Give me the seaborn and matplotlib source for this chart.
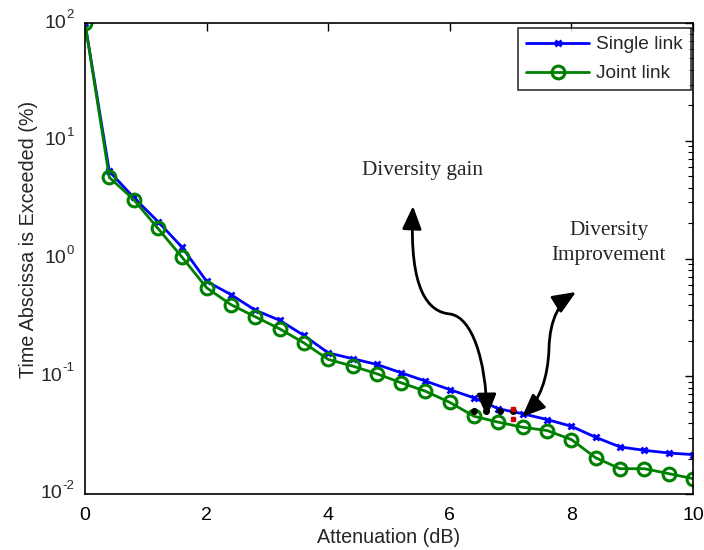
import numpy as np
import pandas as pd
import matplotlib
matplotlib.use("Agg")
import matplotlib.pyplot as plt
import seaborn as sns
from matplotlib.patches import FancyArrowPatch
from matplotlib.path import Path

# ---- data ----
attenuation = [0, 0.4, 0.8, 1.2, 1.6, 2.0, 2.4, 2.8, 3.2, 3.6, 4.0, 4.4, 4.8,
               5.2, 5.6, 6.0, 6.4, 6.8, 7.2, 7.6, 8.0, 8.4, 8.8, 9.2, 9.6, 10.0]
single_link = [100, 5.5, 3.3, 2.06, 1.24, 0.64, 0.494, 0.364, 0.299, 0.222,
               0.158, 0.141, 0.126, 0.107, 0.091, 0.077, 0.0655, 0.053, 0.048,
               0.0429, 0.0376, 0.0303, 0.0251, 0.0235, 0.0223, 0.0216]
joint_link = [100, 4.88, 3.17, 1.80, 1.02, 0.564, 0.406, 0.32, 0.253, 0.192,
              0.139, 0.122, 0.105, 0.088, 0.0746, 0.060, 0.0457, 0.0407, 0.0369,
              0.0346, 0.029, 0.0203, 0.0164, 0.0164, 0.0149, 0.0135]
series_names = ["Single link", "Joint link"]
black_dots_x = [6.40, 6.60, 6.83, 7.04]
black_dots_y = [0.0511, 0.0511, 0.0511, 0.0511]
red_dots_x = [7.04, 7.04]
red_dots_y = [0.0532, 0.0437]
xticks = [0, 2, 4, 6, 8, 10]
ytick_exponents = [-2, -1, 0, 1, 2]
annot_gain = "Diversity gain"
annot_impr = "Diversity\nImprovement"

sns.set_style("white")
plt.rcParams["font.family"] = ["Liberation Sans", "DejaVu Sans"]

fig = plt.figure(figsize=(7.04, 5.5), dpi=100)
ax = fig.add_axes([85/704, 1-494/550, (693-85)/704, (494-23)/550])

df = pd.DataFrame({"x": attenuation * 2,
                   "y": single_link + joint_link,
                   "series": [series_names[0]] * len(attenuation) + [series_names[1]] * len(attenuation)})

blue = (0, 0, 1)
green = (0, 0.5, 0)
sns.lineplot(data=df[df.series == series_names[0]], x="x", y="y", ax=ax,
             color=blue, lw=2.0, marker="x", markersize=5, mew=2,
             markeredgecolor=blue, label=series_names[0])
sns.lineplot(data=df[df.series == series_names[1]], x="x", y="y", ax=ax,
             color=green, lw=2.0, marker="o", markersize=9.2, mew=2.2,
             markerfacecolor="none", markeredgecolor=green,
             label=series_names[1])

ax.plot(black_dots_x, black_dots_y, ls="none", marker="o", ms=4, color="black", zorder=5)
ax.plot(red_dots_x, red_dots_y, ls="none", marker="s", ms=3, color="#cc0000", zorder=5)

ax.set_yscale("log")
ax.set_xlim(0, 10)
ax.set_ylim(1e-2, 1e2)
ax.set_xticks(xticks)
ax.set_xticklabels([str(t) for t in xticks])
ax.set_yticks([10.0 ** k for k in ytick_exponents])
ax.set_yticklabels([])
ax.tick_params(axis="both", which="both", direction="in", top=True, right=True,
               labelsize=14, colors="black")
ax.tick_params(axis="x", pad=9)
ax.tick_params(which="major", length=6, width=1)
ax.tick_params(which="minor", length=3.5, width=0.8)
ax.xaxis.set_minor_locator(matplotlib.ticker.NullLocator())
for s in ax.spines.values():
    s.set_visible(True)
    s.set_color("black")
    s.set_linewidth(1.2)

ax.set_xlabel("Attenuation (dB)", fontsize=14.2, labelpad=3)
ax.set_ylabel("Time Abscissa is Exceeded (%)", fontsize=14.2)
ax.yaxis.set_label_coords(-(85 - 38) / 608, (494 - 239) / 471)

# legend placed with its upper-right corner at pixel (691, 28)
inv = ax.transAxes.inverted()
lx, ly = inv.transform(fig.transFigure.transform((691/704, 1-28/550)))
leg = ax.legend(loc="upper right", bbox_to_anchor=(lx, ly), fontsize=13.8,
                frameon=True, fancybox=False, edgecolor="black",
                handlelength=3.3, borderaxespad=0.0, borderpad=0.42,
                labelspacing=0.6, handletextpad=0.35)
leg.get_frame().set_linewidth(1.2)

# y tick labels in MATLAB style: "10" with a raised exponent (hyphen minus)
fig.canvas.draw()
renderer = fig.canvas.get_renderer()
for k in ytick_exponents:
    e = ax.annotate(str(k), xy=(0, 10.0 ** k), xycoords=("axes fraction", "data"),
                    xytext=(-11, 8), textcoords="offset pixels",
                    ha="right", va="center", fontsize=9.5)
    w = e.get_window_extent(renderer).width
    ax.annotate("10", xy=(0, 10.0 ** k), xycoords=("axes fraction", "data"),
                xytext=(-11 - w, 0), textcoords="offset pixels",
                ha="right", va="center", fontsize=14)

# annotations (positions in figure pixels)
def P(x, y):
    return (x / 704, 1 - y / 550)

fig.text(*P(423, 171), annot_gain, family="Liberation Serif", fontsize=15.3,
         ha="center", va="center")
fig.text(*P(609, 243), annot_impr, family="Liberation Serif", fontsize=15.3,
         ha="center", va="center", linespacing=1.45)

gain_path = Path([P(413, 206), P(409, 290), P(428, 312), P(450, 314),
                  P(472, 317), P(486, 360), P(487, 417)],
                 [Path.MOVETO, Path.CURVE4, Path.CURVE4, Path.CURVE4,
                  Path.CURVE4, Path.CURVE4, Path.CURVE4])
impr_path = Path([P(522, 417), P(540, 400), P(548, 378), P(549, 348),
                  P(550, 318), P(560, 302), P(576, 292)],
                 [Path.MOVETO, Path.CURVE4, Path.CURVE4, Path.CURVE4,
                  Path.CURVE4, Path.CURVE4, Path.CURVE4])
for pth in (gain_path, impr_path):
    arr = FancyArrowPatch(path=pth, arrowstyle="<|-|>,head_length=1.0,head_width=0.42",
                          mutation_scale=14, lw=2, color="black",
                          transform=fig.transFigure)
    fig.patches.append(arr)

fig.savefig("out.png", dpi=100)
